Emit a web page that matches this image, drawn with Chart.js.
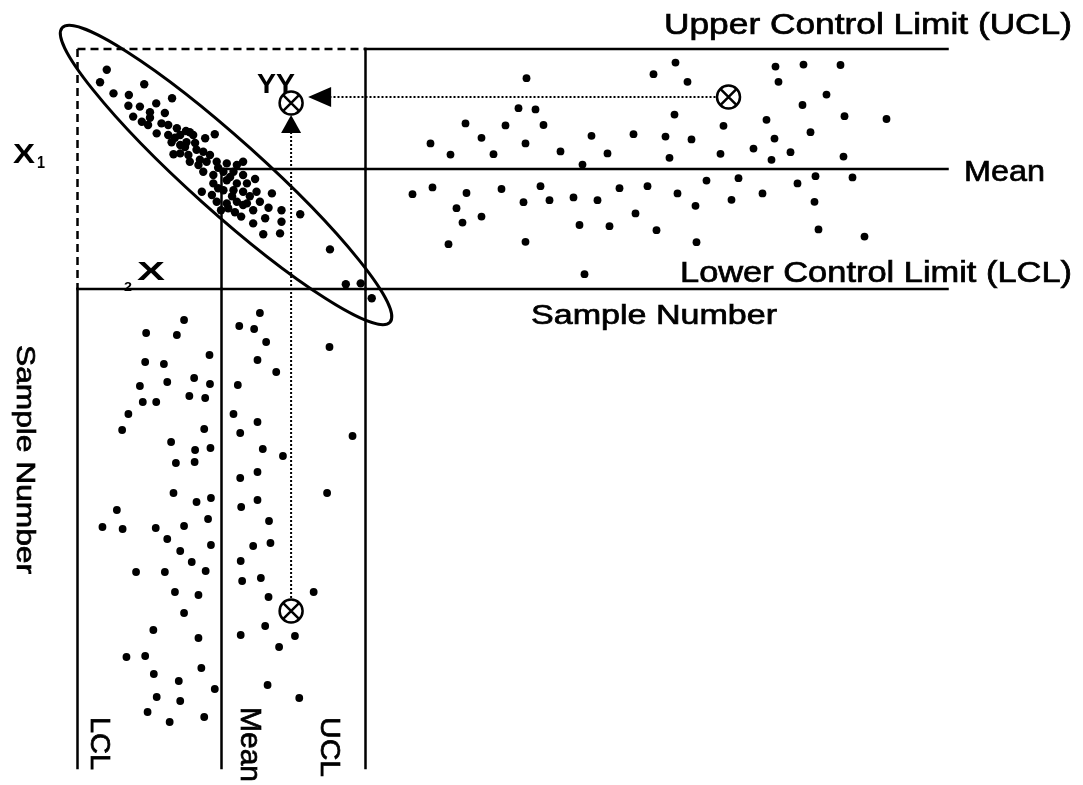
<!DOCTYPE html>
<html>
<head>
<meta charset="utf-8">
<script src="https://cdn.jsdelivr.net/npm/chart.js@4"></script>
<style>
  html, body { margin: 0; padding: 0; background: #fff; }
  canvas { display: block; }
</style>
</head>
<body>
<canvas id="chart" width="1083" height="785"></canvas>
<script>
// control limits in sigma units: LCL, mean, UCL
const limitsX1 = [-3, 0, 3];
const limitsX2 = [-3, 0, 3];
const lastSampleTop = 58.2;
const lastSampleLeft = 47.9;

// joint scatter of X2 vs X1 (corner)
const clusterX2 = [-2.39, -2.53, -1.61, -2.25, -1.93, -1.03, -1.94, -1.70, -1.36, -1.84,
  -1.49, -1.66, -1.53, -1.25, -1.11, -1.35, -0.93, -0.86, -1.11, -1.04,
  -0.66, -0.59, -0.34, -0.14, -0.86, -0.73, -1.00, -0.86, -0.69, -0.52,
  -0.38, -0.24, -0.66, -0.48, -0.31, -0.10, 0.11, 0.32, 0.45, -0.38,
  -0.17, 0.04, 0.25, 0.45, 0.70, -0.17, 0.11, 0.32, 0.53, -0.41,
  -0.20, 0.04, 0.25, 0.45, 0.73, 1.05, -0.10, 0.11, 0.32, 0.53,
  0.80, 0.14, 0.45, 0.66, 0.98, 1.25, 1.64, 0.41, 0.66, 0.91,
  1.25, 0.87, 1.22, 2.26, 2.59, 2.90, 3.13,
  -1.49, -0.97, -0.76, -0.55, -0.45, -0.07, 0.18, -0.07, 0.59, 0.22, -0.01, 0.28, -0.74, -1.18];
const clusterX1 = [2.48, 2.17, 2.12, 1.89, 1.85, 1.77, 1.58, 1.56, 1.64, 1.31,
  1.42, 1.18, 1.10, 1.14, 1.10, 0.89, 1.02, 0.85, 0.85, 0.67,
  0.92, 0.85, 0.77, 0.87, 0.60, 0.67, 0.37, 0.39, 0.35, 0.48,
  0.43, 0.35, 0.18, 0.10, 0.18, 0.18, 0.14, 0.10, 0.18, -0.07,
  -0.15, -0.07, -0.07, -0.15, -0.25, -0.36, -0.28, -0.36, -0.36, -0.57,
  -0.65, -0.53, -0.53, -0.57, -0.57, -0.61, -0.82, -0.86, -0.82, -0.86,
  -0.82, -0.98, -0.90, -1.03, -0.97, -1.03, -1.13, -1.19, -1.36, -1.23,
  -1.32, -1.63, -1.61, -2.01, -2.88, -2.86, -3.23,
  1.28, 0.78, 0.55, 0.65, 0.23, 0.03, -0.20, -0.48, -0.68, -0.68, -1.03, -1.08, 0.95, 1.40];

// X1 control chart (sample number across)
const topSample = [4.7, 6.5, 6.7, 8.3, 8.5, 9.1, 9.7, 10.0, 10.1, 11.6,
  11.6, 12.8, 13.6, 14.0, 15.3, 15.8, 16.0, 16.0, 16.1, 17.0,
  17.5, 17.8, 18.4, 19.5, 20.8, 21.4, 21.7, 21.9, 22.6, 23.2,
  24.2, 24.4, 25.4, 26.8, 27.0, 28.2, 28.8, 29.1, 30.0, 30.4,
  30.9, 31.0, 31.2, 32.2, 32.6, 33.0, 33.1, 34.1, 35.5, 35.8,
  36.6, 37.3, 38.8, 39.7, 40.1, 40.6, 40.9, 41.0, 41.3, 42.5,
  43.2, 43.7, 43.8, 44.5, 44.9, 45.0, 45.3, 46.1, 47.5, 47.8,
  47.9, 48.7, 49.9, 52.1];
const topX1 = [-0.63, 0.64, -0.46, -1.88, 0.36, -0.98, -1.34, 1.14, -0.60, 0.78,
  -1.19, 0.37, -0.50, 1.09, 1.52, -0.83, -1.82, 0.64, 2.27, 1.49,
  -0.43, 1.10, -0.78, 0.44, -0.71, -1.40, 0.11, -2.63, 0.83, -0.78,
  0.39, -1.43, -0.48, 0.87, -1.11, -0.43, 2.37, -1.53, 0.81, 0.28,
  1.36, 2.66, -0.61, 2.18, 0.74, -0.92, -1.83, -0.29, 0.38, 1.08,
  -0.77, -0.23, 0.51, -0.61, 1.23, 0.23, 0.76, 2.56, 2.18, 0.42,
  -0.36, 1.60, 2.61, 0.92, -0.82, -0.18, -1.51, 1.86, 2.60, 0.31,
  1.32, -0.21, -1.69, 1.25];

// X2 control chart (sample number down)
const leftX2 = [-0.78, -1.57, -0.93, -0.25, -1.59, -1.20, -0.57, -1.13, -0.24, -1.70,
  -0.67, -0.34, -1.64, -1.36, -1.94, -2.07, -0.36, -1.05, -0.55, -0.23,
  -0.95, -0.56, -1.00, -0.52, -0.22, -2.18, -2.48, -2.06, -1.37, -0.78,
  -0.28, -1.13, -0.22, -0.86, -0.62, -1.78, -1.18, -0.33, -0.97, -0.48,
  -0.78, -1.42, -0.48, -1.98, -1.59, -0.42, -1.41, -0.89, -0.14, -1.35,
  -0.86, -1.54, -1.08, -0.36,
  0.80, 0.37, 0.68, 0.93, 0.75, 1.14, 0.34, 0.25, 0.75, 0.39,
  0.86, 1.28, 0.75, 0.39, 0.75, 0.41, 0.99, 2.25, 2.73, 2.20,
  0.66, 1.02, 0.40, 0.43, 0.82, 0.98, 1.92, 0.91, 0.40, 1.53,
  1.20, 0.96, 1.62];
const leftSample = [3.1, 4.4, 4.6, 6.6, 7.3, 7.5, 8.9, 9.3, 9.5, 9.7,
  10.7, 10.9, 11.3, 11.3, 12.5, 14.1, 14.0, 15.3, 16.1, 15.9,
  17.4, 17.3, 20.4, 21.3, 20.9, 22.1, 23.8, 24.0, 23.9, 23.7,
  23.0, 25.0, 25.6, 26.2, 27.3, 28.3, 28.3, 28.2, 30.3, 30.6,
  32.4, 34.1, 34.9, 36.8, 36.7, 37.9, 38.5, 39.2, 40.0, 40.8,
  41.2, 42.3, 43.3, 42.8,
  2.4, 3.7, 4.0, 5.3, 7.1, 8.3, 9.6, 12.5, 13.3, 14.4,
  16.0, 16.7, 18.3, 18.9, 21.1, 21.8, 23.2, 5.8, 14.7, 20.4,
  25.7, 25.4, 27.2, 29.2, 28.9, 30.8, 30.3, 33.7, 34.6, 34.7,
  35.8, 39.6, 40.9];

// the out-of-control observation and its projections
const obsTop = [36.3, 1.8];    // sample, X1
const obsLeft = [1.45, 32.2];  // X2, sample
const obsYY = [1.45, 1.65];    // X2, X1

// control ellipse: major axis ends (X2, X1) and minor/major ratio
const ellipseX2 = [-3.32, 3.51];
const ellipseX1 = [3.53, -3.83];
const ellipseRatio = 0.164;

const W = 1083, H = 785;
function fit(v0, p0, v1, p1, size) {
  const k = (p1 - p0) / (v1 - v0);
  const min = v0 - p0 / k;
  return { min: min, max: min + size / k };
}

function pts(xs, ys) { return xs.map((v, i) => ({ x: v, y: ys[i] })); }
function dots(data, xID, yID, r) {
  return { type: 'scatter', data, xAxisID: xID, yAxisID: yID, pointRadius: r,
    pointBackgroundColor: '#000', pointBorderWidth: 0, clip: false };
}
function seg(data, xID, yID, dash) {
  return { type: 'line', data, xAxisID: xID, yAxisID: yID, borderColor: '#000',
    borderWidth: 2.5, borderDash: dash || [], borderCapStyle: dash ? 'butt' : 'square',
    pointRadius: 0, fill: false, tension: 0, clip: false };
}
// datasets earlier in the list are painted on top, so the cross goes first
function marker(data, xID, yID) {
  return [
    { type: 'scatter', data, xAxisID: xID, yAxisID: yID, pointStyle: 'crossRot', pointRadius: 11.5,
      pointBorderColor: '#000', pointBorderWidth: 2.5, clip: false },
    { type: 'scatter', data, xAxisID: xID, yAxisID: yID, pointStyle: 'circle', pointRadius: 11.5,
      pointBackgroundColor: '#fff', pointBorderColor: '#000', pointBorderWidth: 2.5, clip: false }
  ];
}

const [L1, M1, U1] = limitsX1;
const [L2, M2, U2] = limitsX2;
const dash = [8, 5];

const datasets = [
  ...marker([{ x: obsTop[0], y: obsTop[1] }], 'xs', 'y'),
  ...marker([{ x: obsLeft[0], y: obsLeft[1] }], 'x', 'ys'),
  ...marker([{ x: obsYY[0], y: obsYY[1] }], 'x', 'y'),
  // limit lines
  seg([{ x: L2, y: U1 }, { x: U2, y: U1 }], 'x', 'y', dash),
  seg([{ x: 0, y: U1 }, { x: lastSampleTop, y: U1 }], 'xs', 'y'),
  seg([{ x: M2, y: M1 }, { x: U2, y: M1 }], 'x', 'y'),
  seg([{ x: 0, y: M1 }, { x: lastSampleTop, y: M1 }], 'xs', 'y'),
  seg([{ x: L2, y: L1 }, { x: U2, y: L1 }], 'x', 'y'),
  seg([{ x: 0, y: L1 }, { x: lastSampleTop, y: L1 }], 'xs', 'y'),
  seg([{ x: L2, y: U1 }, { x: L2, y: L1 }], 'x', 'y', dash),
  seg([{ x: L2, y: 0 }, { x: L2, y: lastSampleLeft }], 'x', 'ys'),
  seg([{ x: M2, y: M1 }, { x: M2, y: L1 }], 'x', 'y'),
  seg([{ x: M2, y: 0 }, { x: M2, y: lastSampleLeft }], 'x', 'ys'),
  seg([{ x: U2, y: U1 }, { x: U2, y: L1 }], 'x', 'y'),
  seg([{ x: U2, y: 0 }, { x: U2, y: lastSampleLeft }], 'x', 'ys'),
  // data
  dots(pts(clusterX2, clusterX1), 'x', 'y', 4.2),
  dots(pts(topSample, topX1), 'xs', 'y', 3.9),
  dots(pts(leftX2, leftSample), 'x', 'ys', 3.9)
];

const labels = [
  { text: 'Upper Control Limit (UCL)', x: 664, y: 34, size: 29, w: 408 },
  { text: 'Mean', x: 964, y: 181, size: 30, w: 81 },
  { text: 'Lower Control Limit (LCL)', x: 680, y: 282, size: 29, w: 392 },
  { text: 'Sample Number', x: 531, y: 324, size: 27, w: 246 },
  { text: 'Sample Number', x: 17, y: 345, size: 25, w: 229, rot: 90 },
  { text: 'LCL', x: 91, y: 717, size: 28, w: 53, rot: 90 },
  { text: 'Mean', x: 241, y: 707, size: 29, w: 75, rot: 90 },
  { text: 'UCL', x: 321, y: 717, size: 28, w: 60, rot: 90 },
  { text: 'YY', x: 257, y: 93, size: 28, w: 38, bold: true },
  { text: 'X', x: 13, y: 163, size: 27, w: 22, bold: true },
  { text: '1', x: 37, y: 168, size: 16, w: 8, bold: true },
  { text: 'X', x: 137, y: 280, size: 25, w: 28, bold: true },
  { text: '2', x: 124, y: 291, size: 13, w: 8, bold: true }
];

function drawLabel(ctx, l) {
  ctx.save();
  ctx.font = (l.bold ? 'bold ' : '') + l.size + 'px "Liberation Sans", Arial, sans-serif';
  ctx.fillStyle = '#000';
  ctx.strokeStyle = '#000';
  ctx.lineWidth = 0.7;
  ctx.textBaseline = 'alphabetic';
  ctx.translate(l.x, l.y);
  if (l.rot) ctx.rotate(l.rot * Math.PI / 180);
  const m = ctx.measureText(l.text).width;
  ctx.scale(l.w / m, 1);
  ctx.fillText(l.text, 0, 0);
  if (!l.bold) ctx.strokeText(l.text, 0, 0);
  ctx.restore();
}

const overlay = {
  id: 'overlay',
  afterDatasetsDraw(chart) {
    const ctx = chart.ctx, s = chart.scales;
    ctx.save();
    ctx.strokeStyle = '#000';
    ctx.fillStyle = '#000';

    // ellipse
    const ax = s.x.getPixelForValue(ellipseX2[0]), ay = s.y.getPixelForValue(ellipseX1[0]);
    const bx = s.x.getPixelForValue(ellipseX2[1]), by = s.y.getPixelForValue(ellipseX1[1]);
    const a = Math.hypot(bx - ax, by - ay) / 2;
    ctx.lineWidth = 3;
    ctx.beginPath();
    ctx.ellipse((ax + bx) / 2, (ay + by) / 2, a, a * ellipseRatio, Math.atan2(by - ay, bx - ax), 0, 2 * Math.PI);
    ctx.stroke();

    // projection arrows
    const yyX = s.x.getPixelForValue(obsYY[0]), yyY = s.y.getPixelForValue(obsYY[1]);
    const tX = s.xs.getPixelForValue(obsTop[0]), tY = s.y.getPixelForValue(obsTop[1]);
    const lX = s.x.getPixelForValue(obsLeft[0]), lY = s.ys.getPixelForValue(obsLeft[1]);
    ctx.lineWidth = 2;
    ctx.setLineDash([2, 2]);
    ctx.beginPath();
    ctx.moveTo(tX - 13, tY);
    ctx.lineTo(yyX + 40, tY);
    ctx.stroke();
    ctx.beginPath();
    ctx.moveTo(lX, lY - 13);
    ctx.lineTo(lX, yyY + 29);
    ctx.stroke();
    ctx.setLineDash([]);
    ctx.beginPath();
    ctx.moveTo(yyX + 17, tY);
    ctx.lineTo(yyX + 40, tY - 10);
    ctx.lineTo(yyX + 40, tY + 10);
    ctx.closePath();
    ctx.fill();
    ctx.beginPath();
    ctx.moveTo(lX, yyY + 12);
    ctx.lineTo(lX - 10, yyY + 30);
    ctx.lineTo(lX + 10, yyY + 30);
    ctx.closePath();
    ctx.fill();
    ctx.restore();
  },
  afterDraw(chart) {
    labels.forEach(l => drawLabel(chart.ctx, l));
  }
};

const chart = new Chart(document.getElementById('chart'), {
  type: 'scatter',
  data: { datasets },
  options: {
    responsive: false,
    animation: false,
    events: [],
    layout: { padding: 0, autoPadding: false },
    plugins: { legend: { display: false }, tooltip: { enabled: false } },
    scales: {
      x: { type: 'linear', display: false, ...fit(0, 221.5, 3, 365.5, W) },
      xs: { type: 'linear', display: false, ...fit(0, 365.5, 10, 465.5, W) },
      y: { type: 'linear', display: false, ...fit(0, H - 169, 3, H - 49, H) },
      ys: { type: 'linear', display: false, reverse: true, ...fit(0, 289, 10, 389, H) }
    }
  },
  plugins: [overlay]
});
</script>
</body>
</html>
